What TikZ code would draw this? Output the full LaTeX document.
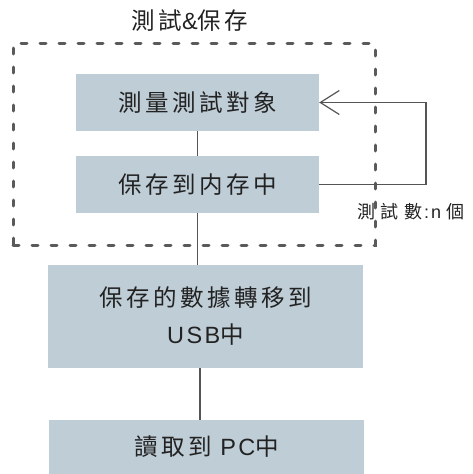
\documentclass[tikz,border=0pt]{standalone}
\usepackage{fontspec}
\setmainfont{Noto Sans CJK TC}
\newfontfamily\cjkbox[LetterSpace=15]{Noto Sans CJK TC}
\newfontfamily\latbox[LetterSpace=10]{Liberation Sans}
\newfontfamily\cjklab[LetterSpace=28]{Noto Sans CJK TC}
\newfontfamily\latlab{Liberation Sans}
\usetikzlibrary{arrows.meta}
\definecolor{boxfill}{HTML}{BFCDD7}
\definecolor{txt}{HTML}{222222}
\definecolor{dashc}{HTML}{5A5A5A}
\definecolor{linec}{HTML}{555555}
\tikzset{
  stepbox/.style={fill=boxfill, draw=none, inner sep=0pt, align=center,
    text=txt, font=\cjkbox\fontsize{23.5}{37}\selectfont},
  link/.style={draw=linec, line width=1.2pt},
  grouptitle/.style={text=txt, font=\cjkbox\fontsize{23.5}{25}\selectfont},
  looplabel/.style={text=txt, font=\cjklab\fontsize{18}{20}\selectfont},
  groupframe/.style={draw=dashc, line width=3pt, line cap=round,
    dash pattern=on 6pt off 13pt, fill=none, inner sep=0pt}
}
\begin{document}
\begin{tikzpicture}[x=1pt,y=-1pt]
\useasboundingbox (0,0) rectangle (472,474);
\node[groupframe, minimum width=362pt, minimum height=202pt] (grp) at (194,144) {};
\node[grouptitle] (title) at (190,21) {測試{\latbox\&}保存};
\node[stepbox, minimum width=243pt, minimum height=57pt] (b1) at (197.5,102.5) {測量測試對象};
\node[stepbox, minimum width=243pt, minimum height=57pt] (b2) at (197.5,184.5) {保存到内存中};
\node[stepbox, minimum width=315pt, minimum height=103pt] (b3) at (205.5,316.5) {保存的數據轉移到\\{\latbox USB}中};
\node[stepbox, minimum width=315pt, minimum height=54pt] (b4) at (206.5,447) {讀取到{\latbox\ PC}中};
\node[looplabel] (lab) at (411,212) {測試數{\latlab\hspace{2pt}:\hspace{2pt}n\hspace{5pt}}個};
\coordinate (loopr) at (426,184.5);
\draw[link] (b1.south) -- (b2.north);
\draw[link] (b2.south) -- (b2.south |- b3.north);
\draw[link] ([xshift=-5.5pt]b3.south) -- ([xshift=-5.5pt]b3.south |- b4.north);
\draw[draw=linec, line width=1.4pt, -{Straight Barb[length=19pt,width=24pt,line width=1.2pt]}]
  (b2.east) -- (loopr) |- (b1.east);
\end{tikzpicture}
\end{document}
